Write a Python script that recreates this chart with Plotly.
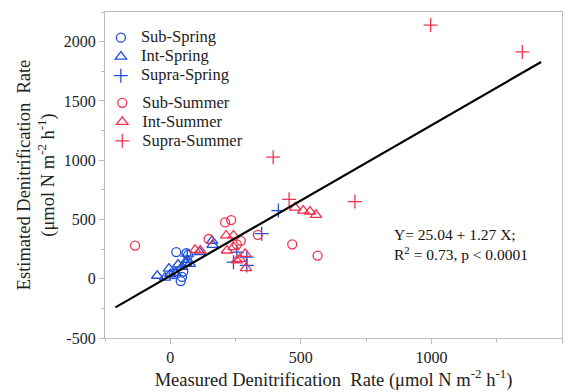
import plotly.graph_objects as go

# ---- data ----
sub_spring_x = [23, 62, 68, 45, 40, 13, 50]
sub_spring_y = [225, 215, 200, 15, -20, 40, 60]

int_spring_x = [-50, -20, -5, 20, 30, 45, 60, 65, 75, 112, 160, 162, 0]
int_spring_y = [25, 10, 85, 50, 120, 100, 130, 160, 125, 225, 320, 285, 40]

supra_spring_x = [65, 242, 255, 293, 293, 350, 414]
supra_spring_y = [190, 140, 225, 182, 112, 380, 575]

sub_summer_x = [-135, 147, 210, 233, 255, 270, 335, 467, 564]
sub_summer_y = [280, 335, 475, 495, 290, 320, 370, 290, 195]

int_summer_x = [95, 115, 214, 242, 217, 242, 255, 267, 287, 290, 478, 509, 535, 558]
int_summer_y = [244, 238, 365, 365, 238, 267, 154, 168, 210, 90, 600, 575, 567, 539]

supra_summer_x = [394, 455, 707, 997, 1348]
supra_summer_y = [1025, 670, 651, 2140, 1913]

fit_intercept = 25.04
fit_slope = 1.27
fit_x = [-210, 1420]
fit_y = [fit_intercept + fit_slope * v for v in fit_x]

x_ticks = [0, 500, 1000, 1500]
x_tick_labels = ["0", "500", "1000", "1500"]
y_ticks = [-500, 0, 500, 1000, 1500, 2000]
y_tick_labels = ["-500", "0", "500", "1000", "1500", "2000"]

BLUE = "#1f4fd6"
RED = "#f2334f"
FONT = "Liberation Serif"

fig = go.Figure()

def add(name, xs, ys, color, symbol, legend, size=9):
    fig.add_trace(go.Scatter(
        x=xs, y=ys, mode="markers",
        name='<span style="font-size:16.5px">' + name + '</span>', legend=legend,
        marker=dict(symbol=symbol, size=size, color=color,
                    line=dict(color=color, width=1.3)),
    ))

add("Sub-Spring", sub_spring_x, sub_spring_y, BLUE, "circle-open", "legend", 9)
add("Int-Spring", int_spring_x, int_spring_y, BLUE, "triangle-up-open", "legend", 10)
add("Supra-Spring", supra_spring_x, supra_spring_y, BLUE, "cross-thin-open", "legend", 10)
add("Sub-Summer", sub_summer_x, sub_summer_y, RED, "circle-open", "legend2", 9)
add("Int-Summer", int_summer_x, int_summer_y, RED, "triangle-up-open", "legend2", 10)
add("Supra-Summer", supra_summer_x, supra_summer_y, RED, "cross-thin-open", "legend2", 10)

fig.add_trace(go.Scatter(x=fit_x, y=fit_y, mode="lines", showlegend=False,
                         line=dict(color="black", width=2.2)))

axis_common = dict(
    showline=True, linecolor="#bdbdbd", linewidth=1.2, mirror=True,
    showgrid=False, zeroline=False,
    ticks="outside", ticklen=5, tickcolor="#bdbdbd",
    tickfont=dict(family=FONT, size=16, color="#222"),
)

legend_common = dict(xanchor="left", yanchor="middle", bgcolor="rgba(0,0,0,0)",
                     font=dict(family=FONT, size=12, color="#222"), itemwidth=30,
                     tracegroupgap=0)

fig.update_layout(
    width=573, height=392,
    margin=dict(l=105, r=10, t=12, b=52),
    paper_bgcolor="white", plot_bgcolor="white",
    font=dict(family=FONT, color="#222"),
    xaxis=dict(range=[-250, 1500], tickvals=x_ticks, ticktext=x_tick_labels,
               minor=dict(dtick=250, tick0=-250, ticks="outside", ticklen=3, tickcolor="#bdbdbd"),
               title=dict(text="Measured Denitrification  Rate (μmol N m<sup>-2</sup> h<sup>-1</sup>)",
                          font=dict(family=FONT, size=18.5), standoff=3),
               **axis_common),
    yaxis=dict(range=[-500, 2250], tickvals=y_ticks, ticktext=y_tick_labels,
               minor=dict(dtick=250, tick0=-500, ticks="outside", ticklen=3, tickcolor="#bdbdbd"),
               title=dict(text="Estimated Denitrification  Rate<br>(μmol N m<sup>-2</sup> h<sup>-1</sup>)",
                          font=dict(family=FONT, size=18.5), standoff=4),
               **axis_common),
    legend=dict(x=-0.009, y=0.863, **legend_common),
    legend2=dict(x=-0.006, y=0.663, **legend_common),
    showlegend=True,
)

fig.add_annotation(x=850, y=286, xref="x", yref="y", xanchor="left", yanchor="middle",
                   text="Y= 25.04 + 1.27 X;<br>R<sup>2</sup> = 0.73, p &lt; 0.0001",
                   showarrow=False, align="left",
                   font=dict(family=FONT, size=15.5, color="#111"))

fig.write_html("out.html", config={"displayModeBar": False},
               post_script="document.body.style.margin='0';document.body.style.overflow='hidden';")
